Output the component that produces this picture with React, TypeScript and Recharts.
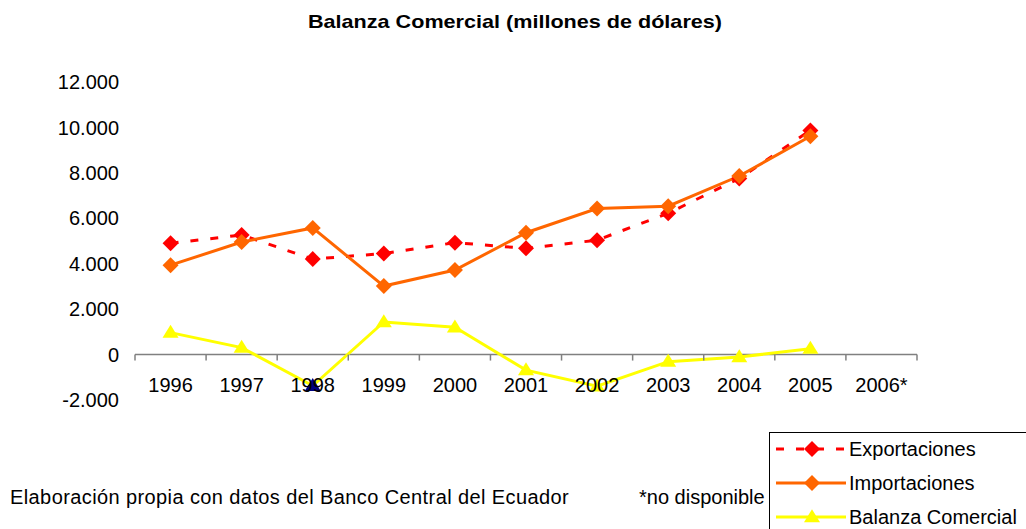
import React from 'react';
import { LineChart, Line, XAxis, YAxis, ReferenceLine, Legend } from 'recharts';

const years = ['1996', '1997', '1998', '1999', '2000', '2001', '2002', '2003', '2004', '2005', '2006*'];
const exportaciones: (number | null)[] = [4900, 5264, 4203, 4451, 4927, 4678, 5036, 6223, 7753, 9869, null];
const importaciones: (number | null)[] = [3935, 4955, 5576, 3017, 3721, 5363, 6431, 6534, 7861, 9609, null];
const balanza: (number | null)[] = [965, 309, -1373, 1434, 1206, -685, -1395, -311, -108, 260, null];
const yTicks = [-2000, 0, 2000, 4000, 6000, 8000, 10000, 12000];

const data = years.map((y, i) => ({
  year: y,
  exp: exportaciones[i],
  imp: importaciones[i],
  bal: balanza[i],
}));

const FONT = '"Liberation Sans", Arial, sans-serif';
const W = 1026;
const H = 529;
const PLOT_LEFT = 135;
const PLOT_RIGHT = 917;
const PLOT_TOP = 82;
const PLOT_BOTTOM = 400;
const X_AXIS_H = 30;
const STEP = (PLOT_RIGHT - PLOT_LEFT) / years.length;
const Y_MIN = -2000;
const Y_MAX = 12000;
const Y0 = PLOT_TOP + ((Y_MAX - 0) / (Y_MAX - Y_MIN)) * (PLOT_BOTTOM - PLOT_TOP);

const RED = '#FF0000';
const ORANGE = '#FF6600';
const YELLOW = '#FFFF00';
const NAVY = '#000080';

const fmt = (v: number) => {
  const s = Math.abs(v).toString().replace(/\B(?=(\d{3})+(?!\d))/g, '.');
  return (v < 0 ? '-' : '') + s;
};

const Diamond = ({ cx, cy, fill }: any) => {
  if (cx == null || cy == null) return null;
  const r = 8;
  return <polygon points={`${cx},${cy - r} ${cx + r},${cy} ${cx},${cy + r} ${cx - r},${cy}`} fill={fill} />;
};

const Triangle = ({ cx, cy, fill }: any) => {
  if (cx == null || cy == null) return null;
  const w = 8;
  const h = 13;
  return <polygon points={`${cx},${cy - h * 0.6} ${cx + w},${cy + h * 0.4} ${cx - w},${cy + h * 0.4}`} fill={fill} />;
};

const ExpDot = (p: any) => (p.value == null ? null : <Diamond key={p.index} cx={p.cx} cy={p.cy} fill={RED} />);
const ImpDot = (p: any) => (p.value == null ? null : <Diamond key={p.index} cx={p.cx} cy={p.cy} fill={ORANGE} />);
const BalDot = (p: any) =>
  p.value == null ? null : (
    <Triangle key={p.index} cx={p.cx} cy={p.cy} fill={p.payload.year === '1998' ? NAVY : YELLOW} />
  );

const XTick = (props: any) => {
  const { x, payload, index } = props;
  const left = x - STEP / 2;
  const right = x + STEP / 2;
  return (
    <g>
      <line x1={left} x2={left} y1={Y0} y2={Y0 + 6} stroke="#808080" strokeWidth={1.5} />
      {index === years.length - 1 && (
        <line x1={right} x2={right} y1={Y0} y2={Y0 + 6} stroke="#808080" strokeWidth={1.5} />
      )}
      <text x={x} y={392} textAnchor="middle" fontFamily={FONT} fontSize={20} fill="#000">
        {payload.value}
      </text>
    </g>
  );
};

const YTick = (props: any) => {
  const { y, payload } = props;
  return (
    <text x={119} y={y} dy="0.355em" textAnchor="end" fontFamily={FONT} fontSize={20} fill="#000">
      {fmt(payload.value)}
    </text>
  );
};

const legendItems = [
  { label: 'Exportaciones', color: RED, dash: '8 12', shape: 'diamond' },
  { label: 'Importaciones', color: ORANGE, dash: undefined, shape: 'diamond' },
  { label: 'Balanza Comercial', color: YELLOW, dash: undefined, shape: 'triangle' },
];

const LegendBox = () => (
  <div
    style={{
      width: 270,
      height: 110,
      border: '1px solid #000',
      background: '#fff',
      boxSizing: 'border-box',
    }}
  >
    <svg width={270} height={110} style={{ display: 'block' }}>
      {legendItems.map((it, i) => {
        const cy = 16 + i * 34;
        return (
          <g key={it.label}>
            <line x1={6} x2={76} y1={cy} y2={cy} stroke={it.color} strokeWidth={3} strokeDasharray={it.dash} />
            {it.shape === 'diamond' ? (
              <Diamond cx={42} cy={cy} fill={it.color} />
            ) : (
              <Triangle cx={42} cy={cy} fill={it.color} />
            )}
            <text x={79} y={cy} dy="0.355em" fontFamily={FONT} fontSize={20} fill="#000">
              {it.label}
            </text>
          </g>
        );
      })}
    </svg>
  </div>
);

export default function App() {
  return (
    <div style={{ position: 'absolute', left: 0, top: 0, width: W, height: H, overflow: 'hidden', background: '#fff' }}>
      <svg width={W} height={40} style={{ position: 'absolute', left: 0, top: 0 }}>
        <text
          x={308}
          y={28}
          fontFamily={FONT}
          fontSize={19}
          fontWeight="bold"
          fill="#000"
          textLength={414}
          lengthAdjust="spacingAndGlyphs"
        >
          Balanza Comercial (millones de dólares)
        </text>
      </svg>
      <div style={{ position: 'absolute', left: 0, top: 0 }}>
        <LineChart
          width={W}
          height={H}
          data={data}
          margin={{ top: PLOT_TOP, right: W - PLOT_RIGHT, left: 0, bottom: H - PLOT_BOTTOM - X_AXIS_H }}
        >
          <XAxis
            dataKey="year"
            height={X_AXIS_H}
            axisLine={false}
            tickLine={false}
            interval={0}
            padding={{ left: STEP / 2, right: STEP / 2 }}
            tick={<XTick />}
          />
          <YAxis
            width={PLOT_LEFT}
            domain={[Y_MIN, Y_MAX]}
            ticks={yTicks}
            interval={0}
            axisLine={false}
            tickLine={false}
            tick={<YTick />}
          />
          <ReferenceLine y={0} stroke="#808080" strokeWidth={1.5} />
          <Legend
            layout="vertical"
            align="center"
            verticalAlign="middle"
            wrapperStyle={{ position: 'absolute', left: 769, top: 432, width: 270, height: 110 }}
            content={() => <LegendBox />}
          />
          <Line
            dataKey="exp"
            name="Exportaciones"
            stroke={RED}
            strokeWidth={3}
            strokeDasharray="8 12"
            dot={ExpDot}
            activeDot={false}
            isAnimationActive={false}
            connectNulls={false}
          />
          <Line
            dataKey="imp"
            name="Importaciones"
            stroke={ORANGE}
            strokeWidth={3}
            dot={ImpDot}
            activeDot={false}
            isAnimationActive={false}
          />
          <Line
            dataKey="bal"
            name="Balanza Comercial"
            stroke={YELLOW}
            strokeWidth={3}
            dot={BalDot}
            activeDot={false}
            isAnimationActive={false}
          />
        </LineChart>
      </div>
      <div
        style={{
          position: 'absolute',
          left: 10,
          top: 486,
          fontFamily: FONT,
          fontSize: 20,
          color: '#000',
          whiteSpace: 'nowrap',
          lineHeight: '23px',
          letterSpacing: '0.4px',
        }}
      >
        Elaboración propia con datos del Banco Central del Ecuador
      </div>
      <div
        style={{
          position: 'absolute',
          left: 639,
          top: 486,
          fontFamily: FONT,
          fontSize: 20,
          color: '#000',
          whiteSpace: 'nowrap',
          lineHeight: '23px',
        }}
      >
        *no disponible
      </div>
    </div>
  );
}
